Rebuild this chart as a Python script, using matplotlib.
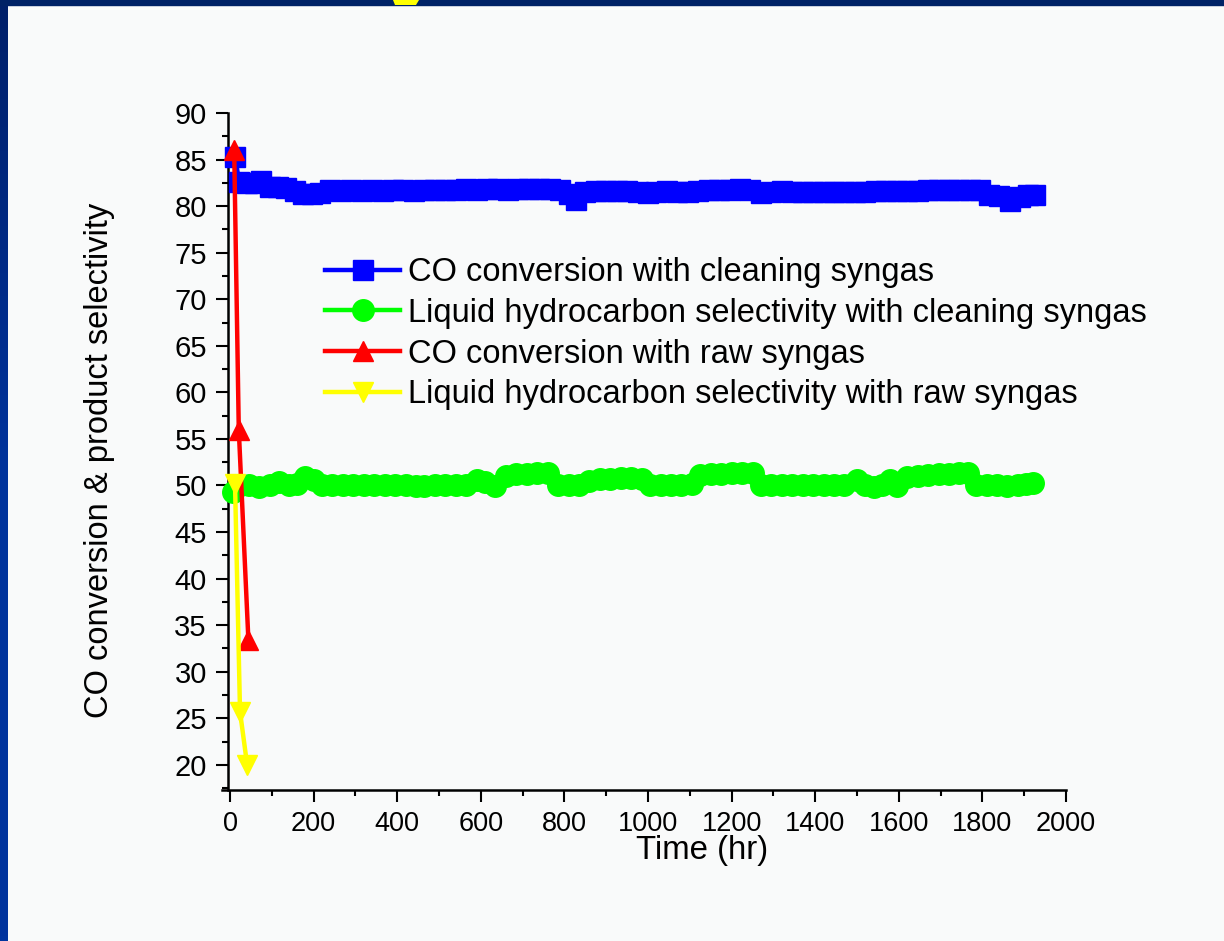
import matplotlib
matplotlib.use("Agg")
import matplotlib.pyplot as plt
from matplotlib.patches import Rectangle, Polygon
from matplotlib.ticker import MultipleLocator
from matplotlib.colors import LinearSegmentedColormap
from matplotlib import font_manager
import numpy as np

plt.rcParams['font.family'] = ['Liberation Sans', 'DejaVu Sans']

# ---------------- data ----------------
blue_t = [12, 22, 40, 60, 75, 95, 115, 135, 155, 175, 195, 215, 240, 265, 290, 315, 340,
          365, 390, 415, 440, 465, 490, 515, 540, 565, 590, 615, 640, 665, 690, 715, 740,
          765, 790, 810, 828, 850, 875, 900, 925, 950, 975, 1000, 1020, 1045, 1070, 1095,
          1120, 1145, 1170, 1195, 1220, 1245, 1270, 1295, 1320, 1345, 1370, 1395, 1420,
          1445, 1470, 1495, 1520, 1545, 1570, 1595, 1620, 1645, 1670, 1695, 1720, 1745,
          1770, 1795, 1815, 1840, 1865, 1890, 1910, 1925]
blue_y = [85.3, 82.6, 82.5, 82.5, 82.7, 82.1, 82.0, 81.9, 81.6, 81.3, 81.3, 81.4, 81.7, 81.6,
          81.7, 81.6, 81.7, 81.6, 81.7, 81.7, 81.6, 81.7, 81.7, 81.7, 81.7, 81.8, 81.7, 81.8,
          81.8, 81.7, 81.8, 81.8, 81.8, 81.8, 81.7, 81.3, 80.7, 81.5, 81.6, 81.6, 81.6, 81.6,
          81.5, 81.4, 81.5, 81.6, 81.5, 81.5, 81.6, 81.7, 81.7, 81.7, 81.8, 81.7, 81.4, 81.5,
          81.6, 81.5, 81.5, 81.5, 81.5, 81.5, 81.5, 81.5, 81.5, 81.6, 81.6, 81.6, 81.6, 81.65,
          81.7, 81.7, 81.7, 81.7, 81.7, 81.7, 81.2, 81.1, 80.6, 81.0, 81.2, 81.2]

green_t = [8, 25, 45, 70, 95, 118, 140, 160, 180, 200, 220, 245, 270, 295, 320, 345, 370,
           395, 420, 445, 465, 490, 515, 540, 565, 590, 610, 635, 660, 685, 710, 735, 760,
           785, 810, 835, 860, 885, 910, 935, 960, 985, 1005, 1030, 1055, 1080, 1105, 1125,
           1150, 1175, 1200, 1225, 1250, 1270, 1295, 1320, 1345, 1370, 1395, 1420, 1445,
           1470, 1500, 1520, 1540, 1560, 1578, 1595, 1620, 1645, 1670, 1695, 1720, 1745,
           1765, 1785, 1810, 1835, 1860, 1885, 1905, 1920]
green_y = [49.3, 50.0, 50.0, 49.8, 50.1, 50.4, 50.1, 50.2, 50.9, 50.6, 50.0, 50.1, 50.1,
           50.1, 50.1, 50.0, 50.0, 50.0, 50.0, 49.9, 49.9, 50.0, 50.0, 50.0, 50.0, 50.6, 50.4,
           49.9, 51.0, 51.2, 51.2, 51.3, 51.3, 50.1, 50.0, 50.0, 50.5, 50.7, 50.7, 50.8, 50.8,
           50.7, 50.0, 50.0, 50.1, 50.1, 50.2, 51.1, 51.2, 51.2, 51.3, 51.3, 51.3, 50.1, 50.0,
           50.1, 50.1, 50.1, 50.1, 50.1, 50.1, 50.0, 50.6, 50.1, 49.8, 50.1, 50.6, 49.9, 50.9,
           51.0, 51.1, 51.2, 51.2, 51.3, 51.3, 50.1, 50.0, 50.0, 49.9, 50.1, 50.2, 50.3]

red_t = [10, 21, 44]
red_y = [86.0, 56.0, 33.4]

yellow_t = [12, 24, 41]
yellow_y = [50.2, 25.7, 20.0]

labels = ["CO conversion with cleaning syngas",
          "Liquid hydrocarbon selectivity with cleaning syngas",
          "CO conversion with raw syngas",
          "Liquid hydrocarbon selectivity with raw syngas"]

# ---------------- figure ----------------
W, H = 1224, 941
fig = plt.figure(figsize=(W / 100, H / 100), dpi=100, facecolor='#F9FAFA')

# slide-style frame (decoration)
bg = fig.add_axes([0, 0, 1, 1], zorder=-5)
bg.set_xlim(0, W)
bg.set_ylim(H, 0)
bg.axis('off')
grad = np.linspace(0, 1, 200).reshape(-1, 1)
cmap = LinearSegmentedColormap.from_list('frame', ['#00206A', '#00339C', '#00349E'])
bg.imshow(grad, extent=(0, 8, H, 0), cmap=cmap, aspect='auto', zorder=1)
bg.add_patch(Rectangle((0, 0), W, 5, color='#002266', zorder=2))
bg.add_patch(Polygon([(393, 0), (419, 0), (416, 5), (395, 5)], closed=True,
                     facecolor='#FFFF00', edgecolor='none', zorder=3))

# axes: x=0 at px 230, x=2000 at px 1066 ; y=90 at px 113, bottom at px 790
x0, x1 = -19.5, 2000
ppu = (1066 - 230) / 2000.0
left_px = 230 + x0 * ppu
ax = fig.add_axes([left_px / W, 1 - 790 / H, (1066 - left_px) / W, (790 - 113) / H])
ax.set_facecolor('none')

lw = 3.2
ax.plot(blue_t, blue_y, color='#0000FF', lw=lw, marker='s', ms=14, mec='#0000FF',
        label=labels[0], zorder=3)
ax.plot(green_t, green_y, color='#00FF00', lw=lw, marker='o', ms=15.5, mec='#00FF00',
        label=labels[1], zorder=4)
ax.plot(red_t, red_y, color='#FF0000', lw=lw, marker='^', ms=14.5, mec='#FF0000',
        label=labels[2], zorder=5)
ax.plot(yellow_t, yellow_y, color='#FFFF00', lw=lw, marker='v', ms=14.5, mec='#FFFF00',
        label=labels[3], zorder=6)

ax.set_xlim(x0, x1)
ax.set_ylim(17.3, 90)
ax.spines['left'].set_position(('data', -4))
ax.xaxis.set_major_locator(MultipleLocator(200))
ax.xaxis.set_minor_locator(MultipleLocator(100))
ax.yaxis.set_major_locator(MultipleLocator(5))
ax.yaxis.set_minor_locator(MultipleLocator(2.5))

for s in ['top', 'right']:
    ax.spines[s].set_visible(False)
for s in ['left', 'bottom']:
    ax.spines[s].set_linewidth(1.8)
    ax.spines[s].set_color('black')

ax.tick_params(which='major', direction='out', length=8.5, width=1.5)
ax.tick_params(which='minor', direction='out', length=4.5, width=1.5)
ax.tick_params(axis='x', labelsize=19.5, pad=6.5)
ax.tick_params(axis='y', labelsize=21, pad=7)

# x tick labels in the reference are condensed
names = {f.name for f in font_manager.fontManager.ttflist}
narrow = 'Liberation Sans Narrow' if 'Liberation Sans Narrow' in names else 'Liberation Sans'
for lab in ax.get_xticklabels():
    lab.set_fontfamily([narrow, 'Liberation Sans', 'DejaVu Sans'])

ax.set_xlabel("Time (hr)", fontsize=23.8)
ax.xaxis.set_label_coords(702 / W, 1 - 835 / H, transform=fig.transFigure)
ax.set_ylabel("CO conversion & product selectivity", fontsize=23.5)
ax.yaxis.set_label_coords(115 / W, 1 - 460 / H, transform=fig.transFigure)

leg = ax.legend(loc='upper left', bbox_to_anchor=(325 / W, 1 - 257 / H),
                bbox_transform=fig.transFigure,
                frameon=False, fontsize=23.5, handlelength=2.3, handletextpad=0.25,
                labelspacing=0.3, borderpad=0, borderaxespad=0)

fig.savefig("out.png", dpi=100, facecolor=fig.get_facecolor())
